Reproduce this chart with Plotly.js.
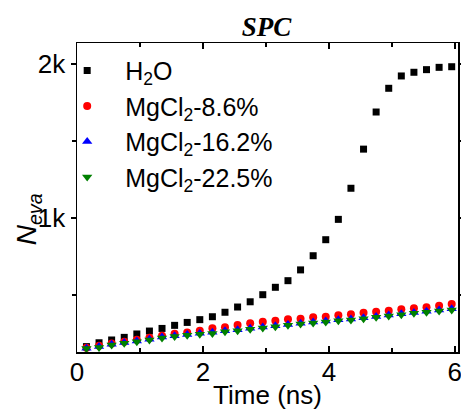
<!DOCTYPE html>
<html>
<head>
<meta charset="utf-8">
<script src="https://cdn.plot.ly/plotly-3.0.1.min.js"></script>
<style>html,body{margin:0;padding:0;background:#fff;}#chart{width:461px;height:410px;}</style>
</head>
<body>
<div id="chart"></div>
<script>
const timeNs = [0.15,0.35,0.55,0.75,0.95,1.15,1.35,1.55,1.75,1.95,2.15,2.35,2.55,2.75,2.95,3.15,3.35,3.55,3.75,3.95,4.15,4.35,4.55,4.75,4.95,5.15,5.35,5.55,5.75,5.95];
const h2o = [165,190,208,225,247,266,283,303,322,340,359,388,422,456,502,550,593,663,755,859,991,1193,1447,1688,1842,1922,1946,1963,1978,1982];
const mg86 = [158,170,185,197,210,222,236,248,256,268,284,290,305,316,327,333,342,346,355,359,368,375,385,392,398,407,414,420,431,442];
const mg162 = [155,166,180,191,202,213,227,236,244,252,258,268,275,284,292,300,309,317,324,331,339,345,352,361,370,378,386,394,402,410];
const mg225 = [152,160,175,186,197,208,221,230,238,246,250,262,268,277,286,294,303,312,318,325,333,338,346,355,364,372,381,388,396,403];
const seriesNames = ['H<sub>2</sub>O','MgCl<sub>2</sub>-8.6%','MgCl<sub>2</sub>-16.2%','MgCl<sub>2</sub>-22.5%'];
const xTickVals = [0,2,4,6];
const yTickVals = [1000,2000];
const yTickText = ['1k','2k'];

const F = 'Arial, "Liberation Sans", sans-serif';
function tr(y, name, sym, color, size){
  return {x: timeNs, y: y, name: name, type: 'scatter', mode: 'markers',
    marker: {symbol: sym, color: color, size: size, line: {width: 0}}};
}
const data = [
  tr(h2o, seriesNames[0], 'square', '#000000', 7),
  tr(mg86, seriesNames[1], 'circle', '#ff0000', 8),
  tr(mg162, seriesNames[2], 'triangle-up', '#0000ff', 9),
  tr(mg225, seriesNames[3], 'triangle-down', '#008000', 9)
];
const layout = {
  width: 461, height: 410,
  margin: {l: 77, r: 3, t: 43, b: 58},
  paper_bgcolor: '#fff', plot_bgcolor: '#fff',
  font: {family: F, color: '#000', size: 25},
  title: {text: '<b><i>SPC</i></b>', font: {family: '"Times New Roman", "Liberation Serif", serif', size: 27, color: '#000'},
    x: 0.578, xanchor: 'center', y: 0.935, yanchor: 'middle'},
  showlegend: true,
  legend: {x: -0.073, y: 0.985, xanchor: 'left', yanchor: 'top', bgcolor: 'rgba(0,0,0,0)',
    font: {family: F, size: 25, color: '#000'}, itemwidth: 66, tracegroupgap: 0},
  xaxis: {range: [0, 6.05], tickmode: 'array', tickvals: xTickVals, ticktext: xTickVals.map(String),
    ticks: 'inside', ticklen: 6, tickwidth: 1.5, tickcolor: '#000', ticklabeloverflow: 'allow', ticklabelstandoff: -4,
    minor: {tickmode: 'array', tickvals: [1,3,5], ticks: 'inside', ticklen: 4, tickwidth: 1.5, tickcolor: '#000'},
    showline: true, linecolor: '#000', linewidth: 1.5, mirror: 'ticks', showgrid: false, zeroline: false,
    tickfont: {family: F, size: 26, color: '#000'},
    title: {text: 'Time (ns)', font: {family: F, size: 26, color: '#000'}, standoff: 0}},
  yaxis: {range: [130, 2136], tickmode: 'array', tickvals: yTickVals, ticktext: yTickText,
    ticks: 'outside', ticklen: 5, tickwidth: 1.5, tickcolor: '#000',
    minor: {tickmode: 'array', tickvals: [500,1500], ticks: 'outside', ticklen: 4, tickwidth: 1.5, tickcolor: '#000'},
    showline: true, linecolor: '#000', linewidth: 1.5, mirror: 'ticks', showgrid: false, zeroline: false,
    tickfont: {family: F, size: 26, color: '#000'}},
  annotations: [{text: '<i>N</i><sub><i>eva</i></sub>', xref: 'paper', yref: 'paper', x: 0, y: 0.43,
    xanchor: 'center', yanchor: 'middle', xshift: -49, textangle: -90, showarrow: false,
    font: {family: F, size: 28, color: '#000'}}]
};
Plotly.newPlot('chart', data, layout, {displayModeBar: false, staticPlot: true});
</script>
</body>
</html>
